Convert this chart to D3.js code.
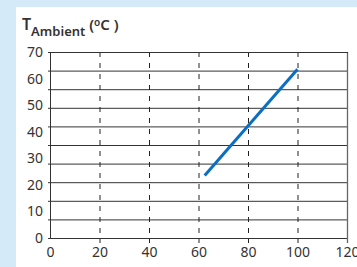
<!DOCTYPE html>
<html>
<head>
<meta charset="utf-8">
<script src="https://cdn.jsdelivr.net/npm/d3@7"></script>
<style>
  body { margin: 0; background: #d5eaf8; }
  svg { display: block; }
  text { font-family: "Noto Sans", "Open Sans", sans-serif; fill: #333; }
</style>
</head>
<body>
<script>
// data
var xTicks = [0, 20, 40, 60, 80, 100, 120];
var yTicks = [0, 10, 20, 30, 40, 50, 60, 70];
var gridValues = [0, 7, 14, 21, 28, 35, 42, 49, 56, 63, 70];
var dashValues = [20, 40, 60, 80, 100];
var speedX = [62.5, 100];
var tempY = [23.5, 63.5];

var w = 357, h = 267;
var mLeft = 50, mRight = 347, mTop = 52, mBottom = 238;

var svg = d3.select("body")
            .append("svg")
            .attr("width", w)
            .attr("height", h);

// white panel
svg.append("rect")
  .attr("x", 16).attr("y", 7)
  .attr("width", w - 16).attr("height", h - 7)
  .attr("fill", "#fff");

var xScale = d3.scaleLinear().domain([0, 120]).range([mLeft, mRight]);
var yScale = d3.scaleLinear().domain([0, 70]).range([mBottom, mTop]);

// horizontal grid
svg.append("g")
  .attr("transform", "translate(" + mLeft + ",0)")
  .call(d3.axisLeft(yScale).tickValues(gridValues).tickSize(-(mRight - mLeft)).tickSizeOuter(0).tickFormat(""))
  .call(function(g) {
    g.select(".domain").remove();
    g.selectAll("line").attr("stroke", "#333").attr("x1", -2);
  });

// dashed verticals
svg.append("g")
  .selectAll("line")
  .data(dashValues)
  .enter()
  .append("line")
  .attr("x1", (d) => xScale(d) + 0.5)
  .attr("x2", (d) => xScale(d) + 0.5)
  .attr("y1", mTop)
  .attr("y2", mBottom + 5)
  .attr("stroke", "#222")
  .attr("stroke-dasharray", "5,6");

// frame
svg.append("line")
  .attr("x1", mLeft + 0.5).attr("x2", mLeft + 0.5)
  .attr("y1", mTop).attr("y2", mBottom)
  .attr("stroke", "#333");
svg.append("line")
  .attr("x1", mRight + 0.5).attr("x2", mRight + 0.5)
  .attr("y1", mTop).attr("y2", mBottom + 5)
  .attr("stroke", "#666").attr("stroke-width", 1.3);
svg.append("line")
  .attr("x1", mLeft).attr("x2", mRight + 1)
  .attr("y1", mTop + 0.5).attr("y2", mTop + 0.5)
  .attr("stroke", "#333");

// y labels
var yAxis = svg.append("g")
  .attr("transform", "translate(" + mLeft + ",0)")
  .call(d3.axisLeft(yScale).tickValues(yTicks).tickSize(0).tickPadding(7));
yAxis.select(".domain").remove();
yAxis.selectAll("text").attr("font-size", 14).style("font-family", null);

// x labels
var xAxis = svg.append("g")
  .attr("transform", "translate(0," + mBottom + ")")
  .call(d3.axisBottom(xScale).tickValues(xTicks).tickSize(0).tickPadding(9));
xAxis.select(".domain").remove();
xAxis.selectAll("text").attr("font-size", 14).style("font-family", null);

// line
var pts = speedX.map((d, i) => [d, tempY[i]]);
svg.append("path")
  .datum(pts)
  .attr("fill", "none")
  .attr("stroke", "#0a6fc2")
  .attr("stroke-width", 3)
  .attr("d", d3.line().x((d) => xScale(d[0])).y((d) => yScale(d[1])));

// title
var title = svg.append("text")
  .attr("x", 22)
  .attr("y", 30)
  .attr("fill", "#222")
  .style("font-weight", 600);
title.append("tspan").attr("font-size", 16).text("T");
title.append("tspan").attr("font-size", 13).attr("dy", 6).text("Ambient");
title.append("tspan").attr("font-size", 15).attr("dy", -6).text(" (");
title.append("tspan").attr("font-size", 10).attr("dy", -4).text("o");
title.append("tspan").attr("font-size", 15).attr("dy", 4).text("C )");
</script>
</body>
</html>
